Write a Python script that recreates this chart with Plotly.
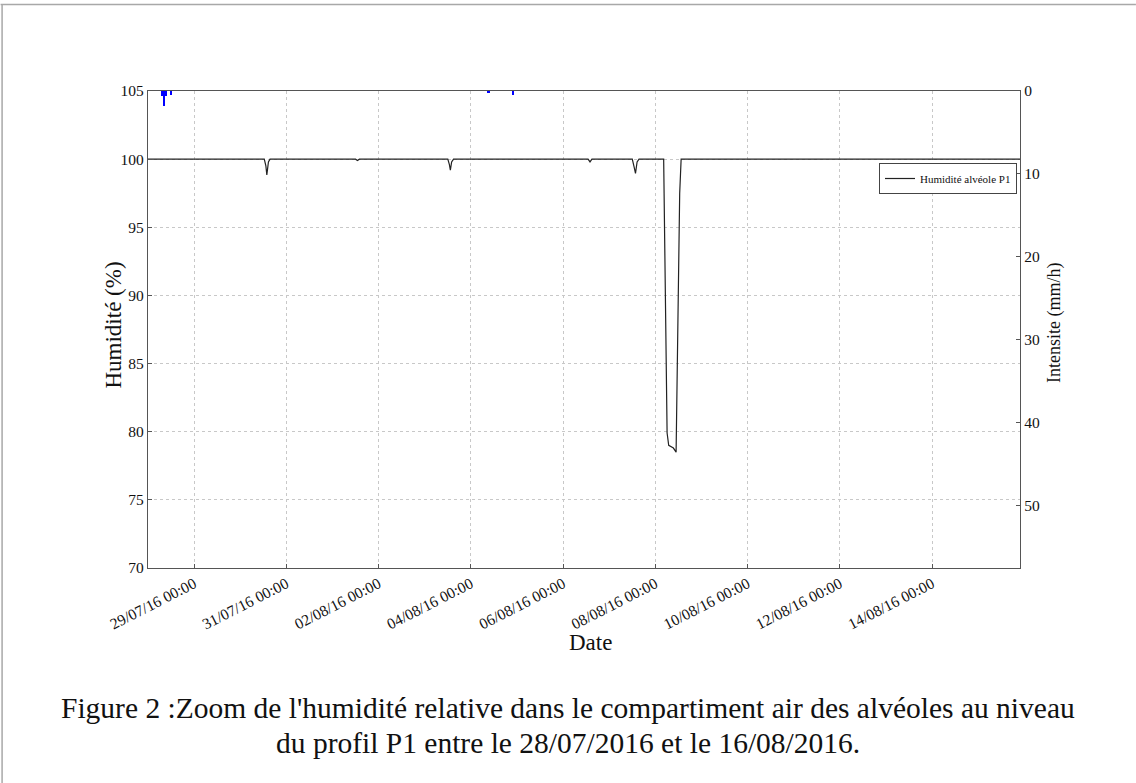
import plotly.graph_objects as go

# Humidity series (date, %)
hum_times = [
    "2016-07-28 00:00", "2016-07-30 12:30", "2016-07-30 13:20", "2016-07-30 13:50",
    "2016-07-30 14:40", "2016-07-30 15:30", "2016-08-01 12:00", "2016-08-01 13:00",
    "2016-08-01 14:00", "2016-08-03 12:00", "2016-08-03 12:50", "2016-08-03 13:20",
    "2016-08-03 14:00", "2016-08-03 15:00", "2016-08-06 13:00", "2016-08-06 14:00",
    "2016-08-06 15:00", "2016-08-07 12:00", "2016-08-07 13:00", "2016-08-07 13:40",
    "2016-08-07 14:30", "2016-08-07 15:30", "2016-08-08 04:20", "2016-08-08 04:44",
    "2016-08-08 05:24", "2016-08-08 06:07", "2016-08-08 06:57", "2016-08-08 09:24",
    "2016-08-08 10:48", "2016-08-08 11:20", "2016-08-08 11:45", "2016-08-08 12:40",
    "2016-08-08 13:25", "2016-08-15 21:45",
]
hum_values = [
    100, 100, 99.5, 98.85,
    99.8, 100, 100, 99.9,
    100, 100, 99.6, 99.2,
    99.8, 100, 100, 99.8,
    100, 100, 99.4, 98.95,
    99.8, 100, 100, 94.8,
    85.0, 79.9, 79.0, 78.8,
    78.5, 84.0, 91.2, 97.5,
    100, 100,
]

# Rain intensity (mm/h)
rain_times = ["2016-07-28 07:30", "2016-07-28 08:30", "2016-07-28 09:30",
              "2016-07-28 12:00", "2016-08-04 09:15", "2016-08-04 22:00"]
rain_values = [0.65, 1.75, 0.6, 0.45, 0.3, 0.45]

x_tick_dates = ["2016-07-29", "2016-07-31", "2016-08-02", "2016-08-04", "2016-08-06",
                "2016-08-08", "2016-08-10", "2016-08-12", "2016-08-14"]
x_tick_labels = ["29/07/16 00:00", "31/07/16 00:00", "02/08/16 00:00", "04/08/16 00:00",
                 "06/08/16 00:00", "08/08/16 00:00", "10/08/16 00:00", "12/08/16 00:00",
                 "14/08/16 00:00"]
y_ticks = [70, 75, 80, 85, 90, 95, 100, 105]
y2_ticks = [0, 10, 20, 30, 40, 50]

FONT = "Liberation Serif"
AXC = "#555555"
GRID = "#c8c8c8"
TXT = "#111111"

fig = go.Figure()
fig.add_trace(go.Bar(
    x=rain_times, y=rain_values, yaxis="y2", width=3.6e6,
    marker=dict(color="#0000ff", line=dict(width=0)), showlegend=False,
))
fig.add_trace(go.Scatter(
    x=hum_times, y=hum_values, mode="lines", name="Humidité alvéole P1",
    line=dict(color="#222222", width=1.2),
))

W, H = 1136, 783
L, R, T, B = 147.5, 116, 91, 215
pw, ph = W - L - R, H - T - B

def px(xp):
    return (xp - L) / pw

def py(yp):
    return 1 - (yp - T) / ph

fig.update_layout(
    width=W, height=H,
    margin=dict(l=L, r=R, t=T, b=B, pad=0),
    paper_bgcolor="white", plot_bgcolor="white",
    font=dict(family=FONT, color=TXT, size=15),
    bargap=0,
    xaxis=dict(
        type="date", range=["2016-07-28 00:00", "2016-08-15 21:45"],
        tickvals=x_tick_dates, ticktext=x_tick_labels, tickangle=-27,
        tickfont=dict(size=15.5, family=FONT, color=TXT),
        showgrid=True, gridcolor=GRID, griddash="dot", gridwidth=1,
        showline=True, linecolor=AXC, linewidth=1.2, mirror=True,
        ticks="inside", ticklen=4, tickcolor=AXC,
        zeroline=False,
    ),
    yaxis=dict(
        range=[70, 105], tickvals=y_ticks,
        tickfont=dict(size=15.5, family=FONT, color=TXT),
        showgrid=True, gridcolor=GRID, griddash="dot", gridwidth=1,
        showline=True, linecolor=AXC, linewidth=1.2, mirror=False,
        ticks="inside", ticklen=4, tickcolor=AXC, zeroline=False,
    ),
    yaxis2=dict(
        overlaying="y", side="right", range=[57.5, 0],
        tickvals=y2_ticks,
        tickfont=dict(size=15.5, family=FONT, color=TXT),
        showgrid=False, showline=True, linecolor=AXC, linewidth=1.2,
        ticks="inside", ticklen=4, tickcolor=AXC, zeroline=False,
    ),
    legend=dict(
        x=px(1017), y=py(163), xanchor="right", yanchor="top",
        bgcolor="white", bordercolor="#444444", borderwidth=1,
        font=dict(size=11, family=FONT, color=TXT),
        itemwidth=30, tracegroupgap=0,
    ),
    shapes=[
        dict(type="line", xref="paper", yref="paper", x0=px(0), x1=px(W), y0=py(4.5), y1=py(4.5),
             line=dict(color="#a8a8a8", width=1.5)),
        dict(type="line", xref="paper", yref="paper", x0=px(1.5), x1=px(1.5), y0=py(4.5), y1=py(H),
             line=dict(color="#a8a8a8", width=1.5)),
    ],
    annotations=[
        dict(text="Date", xref="paper", yref="paper", x=px(590), y=py(642),
             xanchor="center", yanchor="middle", showarrow=False,
             font=dict(size=23, family=FONT, color=TXT)),
        dict(text="Humidité (%)", xref="paper", yref="paper", x=px(112), y=py(325),
             xanchor="center", yanchor="middle", showarrow=False, textangle=-90,
             font=dict(size=23, family=FONT, color=TXT)),
        dict(text="Intensite (mm/h)", xref="paper", yref="paper", x=px(1054), y=py(323),
             xanchor="center", yanchor="middle", showarrow=False, textangle=-90,
             font=dict(size=18, family=FONT, color=TXT)),
        dict(text="Figure 2 :Zoom de l'humidité relative dans le compartiment air des alvéoles au niveau",
             xref="paper", yref="paper", x=px(568), y=py(708), xanchor="center", yanchor="middle",
             showarrow=False, font=dict(size=29.5, family=FONT, color=TXT)),
        dict(text="du profil P1 entre le 28/07/2016 et le 16/08/2016.",
             xref="paper", yref="paper", x=px(568), y=py(743), xanchor="center", yanchor="middle",
             showarrow=False, font=dict(size=29.5, family=FONT, color=TXT)),
    ],
)

fig.write_html("out.html")
